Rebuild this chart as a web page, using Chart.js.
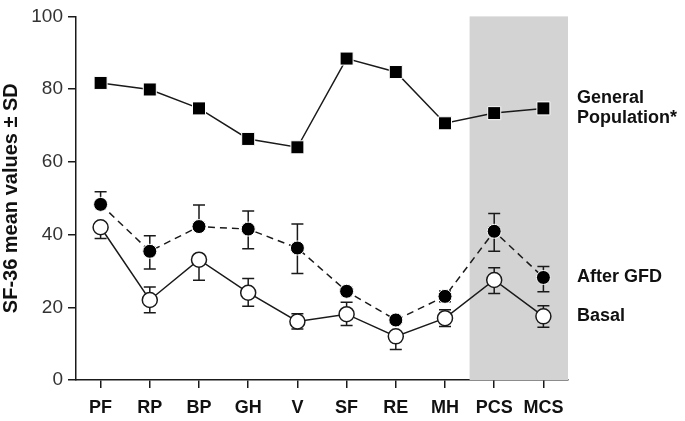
<!DOCTYPE html>
<html lang="en">
<head>
  <meta charset="UTF-8">
  <title>SF-36</title>
  <script src="https://cdn.jsdelivr.net/npm/chart.js"></script>
  <style>
    html, body { margin: 0; padding: 0; background: #fff; }
    #wrap { width: 685px; height: 421px; }
  </style>
</head>
<body>
  <div id="wrap"><canvas id="sfChart" width="685" height="421"></canvas></div>
  <script>
    const categories = ['PF', 'RP', 'BP', 'GH', 'V', 'SF', 'RE', 'MH', 'PCS', 'MCS'];
    const generalPop = [81.7, 79.9, 74.7, 66.3, 64.0, 88.4, 84.7, 70.6, 73.4, 74.7];
    const afterGfd = [48.3, 35.4, 42.2, 41.5, 36.3, 24.4, 16.5, 23.0, 40.9, 28.2];
    const afterGfdUp = [3.5, 4.3, 5.9, 5.0, 6.6, 0, 0, 1.5, 4.9, 3.0];
    const afterGfdDown = [0, 4.9, 0, 5.4, 7.0, 0, 0, 1.5, 5.5, 3.9];
    const basal = [42.0, 22.0, 33.1, 24.0, 16.1, 18.1, 12.0, 17.0, 27.5, 17.5];
    const basalUp = [0, 3.6, 0, 3.9, 2.1, 3.3, 0, 2.3, 3.4, 2.9];
    const basalDown = [3.1, 3.5, 5.7, 3.7, 2.1, 3.1, 3.6, 2.3, 3.7, 3.0];
    const yTicks = [0, 20, 40, 60, 80, 100];
    const shadedCats = ['PCS', 'MCS'];
    const seriesLabels = [['General', 'Population*'], ['After GFD'], ['Basal']];
    const yTitle = 'SF-36 mean values ± SD';

    const ink = '#1a1a1a';
    const fontFam = '"Liberation Sans", Arial, sans-serif';

    const extrasPlugin = {
      id: 'extras',
      beforeDatasetsDraw(chart) {
        const { ctx, chartArea, scales } = chart;
        const x = scales.x, y = scales.y;
        const step = x.getPixelForValue(1) - x.getPixelForValue(0);
        const x0 = x.getPixelForValue(categories.indexOf(shadedCats[0])) - step / 2;
        const x1 = x.getPixelForValue(categories.indexOf(shadedCats[1])) + step / 2;
        ctx.save();
        ctx.fillStyle = '#d3d3d3';
        ctx.fillRect(x0, chartArea.top, x1 - x0, chartArea.bottom - chartArea.top);

        // error bars (only the parts that show in the original)
        ctx.strokeStyle = ink;
        ctx.lineWidth = 1.5;
        const bars = [[afterGfd, afterGfdUp, afterGfdDown], [basal, basalUp, basalDown]];
        bars.forEach(([mean, up, down]) => {
          mean.forEach((m, i) => {
            const px = x.getPixelForValue(i);
            const py = y.getPixelForValue(m);
            [[up[i], 1], [down[i], -1]].forEach(([e, s]) => {
              if (!e) return;
              const pe = y.getPixelForValue(m + s * e);
              ctx.beginPath();
              ctx.moveTo(px, py);
              ctx.lineTo(px, pe);
              ctx.moveTo(px - 6, pe);
              ctx.lineTo(px + 6, pe);
              ctx.stroke();
            });
          });
        });
        ctx.restore();
      },
      afterDraw(chart) {
        const { ctx, scales, chartArea } = chart;
        const y = scales.y;
        const last = categories.length - 1;
        const series = [generalPop, afterGfd, basal];
        ctx.save();
        ctx.fillStyle = '#111';
        ctx.font = 'bold 18px ' + fontFam;
        ctx.textBaseline = 'middle';
        ctx.textAlign = 'left';
        series.forEach((s, k) => {
          const lines = seriesLabels[k];
          const cy = y.getPixelForValue(s[last]);
          const lh = 20;
          lines.forEach((t, j) => {
            ctx.fillText(t, 577, cy + (j - (lines.length - 1) / 2) * lh);
          });
        });

        // y axis title
        ctx.translate(11, (chartArea.top + chartArea.bottom) / 2);
        ctx.rotate(-Math.PI / 2);
        ctx.textAlign = 'center';
        ctx.font = 'bold 20px ' + fontFam;
        ctx.fillText(yTitle, 0, 0);
        ctx.restore();
      }
    };

    new Chart(document.getElementById('sfChart'), {
      type: 'line',
      data: {
        labels: categories,
        datasets: [
          {
            label: 'General Population*',
            data: generalPop,
            borderColor: ink,
            borderWidth: 1.5,
            pointStyle: 'rect',
            pointRadius: 9.2,
            pointBackgroundColor: '#000',
            pointBorderColor: '#fff',
            pointBorderWidth: 1,
            tension: 0
          },
          {
            label: 'After GFD',
            data: afterGfd,
            borderColor: ink,
            borderWidth: 1.5,
            borderDash: [7, 5],
            pointStyle: 'circle',
            pointRadius: 7,
            pointBackgroundColor: '#000',
            pointBorderColor: '#fff',
            pointBorderWidth: 1,
            tension: 0
          },
          {
            label: 'Basal',
            data: basal,
            borderColor: ink,
            borderWidth: 1.5,
            pointStyle: 'circle',
            pointRadius: 7.5,
            pointBackgroundColor: '#fff',
            pointBorderColor: ink,
            pointBorderWidth: 1.5,
            tension: 0
          }
        ]
      },
      options: {
        responsive: false,
        animation: false,
        layout: { padding: { left: 0, right: 117, top: 13, bottom: 0 } },
        plugins: {
          legend: { display: false },
          tooltip: { enabled: false }
        },
        scales: {
          x: {
            offset: true,
            grid: { offset: false, drawOnChartArea: false, drawTicks: true, tickLength: 8, color: ink, lineWidth: 1.5 },
            border: { display: true, color: ink, width: 1.5 },
            ticks: {
              color: '#111',
              padding: 9,
              font: { family: fontFam, size: 18, weight: 'bold' }
            },
            afterFit: s => { s.height = 41; }
          },
          y: {
            min: 0,
            max: 100,
            afterBuildTicks: s => { s.ticks = yTicks.map(v => ({ value: v })); },
            grid: { drawOnChartArea: false, drawTicks: true, tickLength: 8, color: ink, lineWidth: 1.5 },
            border: { display: true, color: ink, width: 1.5 },
            ticks: {
              color: '#333',
              padding: 5,
              font: { family: fontFam, size: 19 }
            },
            afterFit: s => { s.width = 76; }
          }
        }
      },
      plugins: [extrasPlugin]
    });
  </script>
</body>
</html>
